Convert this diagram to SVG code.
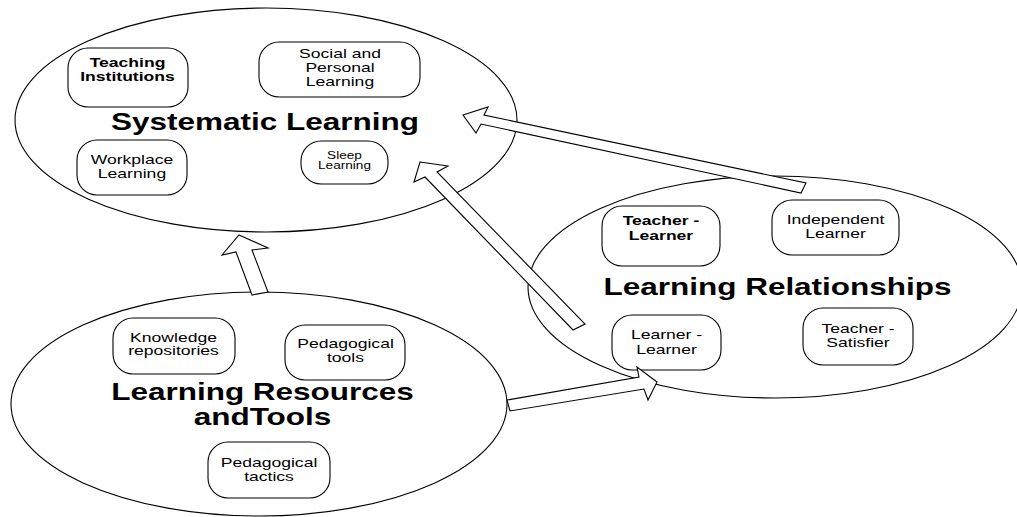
<svg xmlns="http://www.w3.org/2000/svg" width="1017" height="517" viewBox="0 0 1017 517">
<style>
.bg{fill:#fff}
.ell{fill:#fff;stroke:#000;stroke-width:1.1}
.box{fill:#fff;stroke:#000;stroke-width:1.1}
.arr{fill:#fff;stroke:#000;stroke-width:1.1;stroke-linejoin:miter}
text{font-family:"Liberation Sans",Arial,sans-serif;fill:#000;text-anchor:middle}
.title{font-size:23.5px;font-weight:bold}
.lbl{font-size:13px}
.lblb{font-size:13px;font-weight:bold}
.sm{font-size:10px}
</style>
<rect class="bg" x="0" y="0" width="1017" height="517"/>

<g id="systematic-learning">
  <ellipse class="ell" cx="266" cy="120" rx="251" ry="112"/>
  <text class="title" transform="translate(265 130) scale(1.34 1)">Systematic Learning</text>
</g>
<g id="learning-relationships">
  <ellipse class="ell" cx="775" cy="287" rx="247" ry="111"/>
  <text class="title" transform="translate(777.5 295) scale(1.34 1)">Learning Relationships</text>
</g>
<g id="learning-resources">
  <ellipse class="ell" cx="259" cy="404" rx="248" ry="112"/>
  <text class="title" transform="translate(262.5 400) scale(1.34 1)"><tspan x="0" y="0">Learning Resources</tspan><tspan x="0" y="25">andTools</tspan></text>
</g>

<g id="teaching-institutions">
  <rect class="box" x="68" y="48" width="120" height="59" rx="20" ry="20"/>
  <text class="lblb" transform="translate(127.5 66.7) scale(1.35 1)"><tspan x="0" y="0">Teaching</tspan><tspan x="0" y="14">Institutions</tspan></text>
</g>
<g id="social-personal-learning">
  <rect class="box" x="259" y="42" width="161" height="55" rx="20" ry="20"/>
  <text class="lbl" transform="translate(340 57.5) scale(1.35 1)"><tspan x="0" y="0">Social and</tspan><tspan x="0" y="14.5">Personal</tspan><tspan x="0" y="29">Learning</tspan></text>
</g>
<g id="workplace-learning">
  <rect class="box" x="77" y="140" width="110" height="55" rx="20" ry="20"/>
  <text class="lbl" transform="translate(132 164) scale(1.35 1)"><tspan x="0" y="0">Workplace</tspan><tspan x="0" y="14">Learning</tspan></text>
</g>
<g id="sleep-learning">
  <rect class="box" x="301" y="141" width="87" height="43" rx="20" ry="20"/>
  <text class="sm" transform="translate(344.5 159.3) scale(1.36 1)"><tspan x="0" y="0">Sleep</tspan><tspan x="0" y="10">Learning</tspan></text>
</g>

<g id="teacher-learner">
  <rect class="box" x="602" y="206" width="118" height="60" rx="20" ry="20"/>
  <text class="lblb" transform="translate(661 225) scale(1.35 1)"><tspan x="0" y="0">Teacher -</tspan><tspan x="0" y="15">Learner</tspan></text>
</g>
<g id="independent-learner">
  <rect class="box" x="772" y="200" width="127" height="55" rx="20" ry="20"/>
  <text class="lbl" transform="translate(835.5 224) scale(1.35 1)"><tspan x="0" y="0">Independent</tspan><tspan x="0" y="14">Learner</tspan></text>
</g>
<g id="learner-learner">
  <rect class="box" x="612" y="315" width="109" height="55" rx="20" ry="20"/>
  <text class="lbl" transform="translate(666.5 339) scale(1.35 1)"><tspan x="0" y="0">Learner -</tspan><tspan x="0" y="15">Learner</tspan></text>
</g>
<g id="teacher-satisfier">
  <rect class="box" x="803" y="308" width="110" height="57" rx="20" ry="20"/>
  <text class="lbl" transform="translate(858 333) scale(1.35 1)"><tspan x="0" y="0">Teacher -</tspan><tspan x="0" y="14.5">Satisfier</tspan></text>
</g>

<g id="knowledge-repositories">
  <rect class="box" x="113" y="318" width="122" height="56" rx="20" ry="20"/>
  <text class="lbl" transform="translate(173.5 341.7) scale(1.35 1)"><tspan x="0" y="0">Knowledge</tspan><tspan x="0" y="13.5">repositories</tspan></text>
</g>
<g id="pedagogical-tools">
  <rect class="box" x="285" y="325" width="120" height="55" rx="20" ry="20"/>
  <text class="lbl" transform="translate(345.5 348) scale(1.35 1)"><tspan x="0" y="0">Pedagogical</tspan><tspan x="0" y="14">tools</tspan></text>
</g>
<g id="pedagogical-tactics">
  <rect class="box" x="208" y="442" width="122" height="56" rx="20" ry="20"/>
  <text class="lbl" transform="translate(269 466.7) scale(1.35 1)"><tspan x="0" y="0">Pedagogical</tspan><tspan x="0" y="14">tactics</tspan></text>
</g>

<g id="connectors">
  <polygon class="arr" points="239,235 268,248 252,250 268,292 252,295 236,252 222,255"/>
  <polygon class="arr" points="463,115 488,107 484,115 806,183 801,193 481,124 476,133"/>
  <polygon class="arr" points="420,162 448,166 437,172 585,324 573,330 425,177 414,182"/>
  <polygon class="arr" points="507,400 639,377 637,367 657,382 648,400 644,389 510,411"/>
</g>
</svg>
